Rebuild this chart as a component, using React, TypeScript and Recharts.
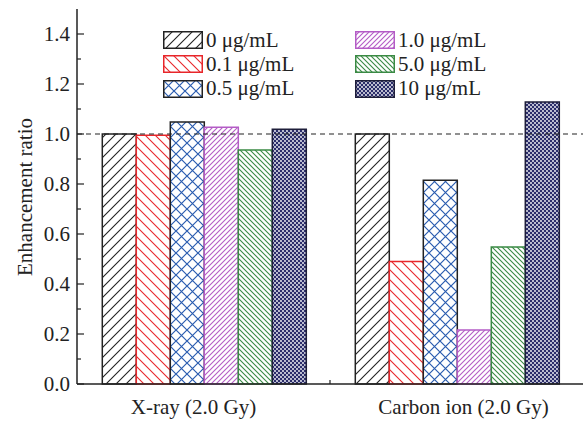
import * as React from "react";
import { Bar, BarChart, ReferenceLine, XAxis, YAxis } from "recharts";

const categories = ["X-ray (2.0 Gy)", "Carbon ion (2.0 Gy)"];
const doseLabels = ["0 μg/mL", "0.1 μg/mL", "0.5 μg/mL", "1.0 μg/mL", "5.0 μg/mL", "10 μg/mL"];
const dose0 = [1.0, 1.0];
const dose01 = [0.995, 0.49];
const dose05 = [1.048, 0.815];
const dose1 = [1.027, 0.216];
const dose5 = [0.936, 0.548];
const dose10 = [1.019, 1.128];
const yTicks = [0, 0.1, 0.2, 0.3, 0.4, 0.5, 0.6, 0.7, 0.8, 0.9, 1.0, 1.1, 1.2, 1.3, 1.4];

const series = [dose0, dose01, dose05, dose1, dose5, dose10];
const keys = ["d0", "d01", "d05", "d1", "d5", "d10"];
const strokes = ["#222222", "#e8262a", "#222222", "#b45cc6", "#3a8a44", "#1e1e3a"];

const data = categories.map((name, i) => {
  const row: Record<string, string | number> = { name };
  keys.forEach((k, j) => (row[k] = series[j][i]));
  return row;
});

const W = 584;
const H = 421;
const LEFT = 77;
const RIGHT_M = 1;
const BOTTOM = 384;
const FONT = "'Liberation Serif', 'Times New Roman', serif";

function Patterns() {
  return (
    <svg width={0} height={0} style={{ position: "absolute" }}>
      <defs>
        <pattern id="p0" patternUnits="userSpaceOnUse" width={10} height={10}>
          <rect width={10} height={10} fill="#fff" />
          <path d="M0,10 L10,0 M-2,2 L2,-2 M8,12 L12,8" stroke="#222" strokeWidth={1.1} />
        </pattern>
        <pattern id="p1" patternUnits="userSpaceOnUse" width={10} height={10}>
          <rect width={10} height={10} fill="#fff" />
          <path d="M0,0 L10,10 M-2,8 L2,12 M8,-2 L12,2" stroke="#e8262a" strokeWidth={1.1} />
        </pattern>
        <pattern id="p2" patternUnits="userSpaceOnUse" width={11} height={11}>
          <rect width={11} height={11} fill="#fff" />
          <path d="M0,0 L11,11 M0,11 L11,0" stroke="#2a5cb0" strokeWidth={1.2} />
        </pattern>
        <pattern id="p3" patternUnits="userSpaceOnUse" width={5} height={5}>
          <rect width={5} height={5} fill="#fff" />
          <path d="M0,5 L5,0 M-1,1 L1,-1 M4,6 L6,4" stroke="#b45cc6" strokeWidth={1.1} />
        </pattern>
        <pattern id="p4" patternUnits="userSpaceOnUse" width={5} height={5}>
          <rect width={5} height={5} fill="#fff" />
          <path d="M0,0 L5,5 M-1,4 L1,6 M4,-1 L6,1" stroke="#3a8a44" strokeWidth={1.1} />
        </pattern>
        <pattern id="p5" patternUnits="userSpaceOnUse" width={4} height={4}>
          <rect width={4} height={4} fill="#2b2d6a" />
          <circle cx={1} cy={1} r={0.9} fill="#fff" />
          <circle cx={3} cy={3} r={0.9} fill="#fff" />
        </pattern>
      </defs>
    </svg>
  );
}

function YTick(props: any) {
  const { y, payload } = props;
  const v = payload.value as number;
  const major = Math.round(v * 10) % 2 === 0;
  return (
    <g>
      <line x1={LEFT} x2={LEFT + (major ? 7 : 4)} y1={y} y2={y} stroke="#222" strokeWidth={1.2} />
      {major && (
        <text x={LEFT - 7} y={y} dy="0.35em" textAnchor="end" fontSize={21} fontFamily={FONT} fill="#222">
          {v.toFixed(1)}
        </text>
      )}
    </g>
  );
}

function XTick(props: any) {
  const { x, payload, index } = props;
  // labels sit a little off the group centre in the original
  const dx = index === 0 ? -10 : 7;
  const boundary = LEFT + (W - RIGHT_M - LEFT) / categories.length;
  return (
    <g>
      {index === 0 && <line x1={boundary} x2={boundary} y1={BOTTOM} y2={BOTTOM - 4} stroke="#222" strokeWidth={1.2} />}
      <text x={x + dx} y={414} textAnchor="middle" fontSize={21} fontFamily={FONT} fill="#222">
        {payload.value}
      </text>
    </g>
  );
}

function YLabel() {
  return (
    <text x={32} y={197} transform="rotate(-90 32 197)" textAnchor="middle" fontSize={21} fontFamily={FONT} fill="#222">
      Enhancement ratio
    </text>
  );
}

function LegendBox() {
  const cols = [0, 1];
  return (
    <div style={{ position: "absolute", left: 163, top: 28, display: "flex", fontFamily: FONT, fontSize: 21, color: "#222" }}>
      {cols.map((c) => (
        <div key={c} style={{ width: c === 0 ? 192 : 200 }}>
          {[0, 1, 2].map((r) => {
            const i = c * 3 + r;
            return (
              <div key={r} style={{ display: "flex", alignItems: "center", height: 24.3 }}>
                <svg width={40} height={18} style={{ marginRight: 3 }}>
                  <rect x={0.75} y={0.75} width={38.5} height={16.5} fill={`url(#p${i})`} stroke={strokes[i]} strokeWidth={1.5} />
                </svg>
                <span style={{ lineHeight: "21px" }}>{doseLabels[i]}</span>
              </div>
            );
          })}
        </div>
      ))}
    </div>
  );
}

export default function App() {
  return (
    <div style={{ position: "absolute", left: 0, top: 0, width: W, height: H, background: "#fff" }}>
      <Patterns />
      <BarChart
        width={W}
        height={H}
        data={data}
        margin={{ top: 9, right: RIGHT_M, bottom: 0, left: 0 }}
        barCategoryGap="10%"
        barGap={0}
      >
        <XAxis dataKey="name" height={H - BOTTOM} tickLine={false} tick={<XTick />} axisLine={{ stroke: "#222", strokeWidth: 1.5 }} />
        <XAxis xAxisId="top" orientation="top" dataKey="name" height={0} tick={false} tickLine={false} axisLine={{ stroke: "#222", strokeWidth: 1.5 }} />
        <YAxis
          type="number"
          domain={[0, 1.5]}
          ticks={yTicks}
          width={LEFT}
          tickLine={false}
          tick={<YTick />}
          interval={0}
          axisLine={{ stroke: "#222", strokeWidth: 1.5 }}
          label={<YLabel />}
        />
        <YAxis yAxisId="right" orientation="right" type="number" domain={[0, 1.5]} width={0} tick={false} tickLine={false} axisLine={{ stroke: "#222", strokeWidth: 1.5 }} />
        <ReferenceLine y={1} stroke="#222" strokeDasharray="5 4" strokeWidth={1.2} />
        {keys.map((k, i) => (
          <Bar key={k} dataKey={k} fill={`url(#p${i})`} stroke={strokes[i]} strokeWidth={1.5} isAnimationActive={false} />
        ))}
      </BarChart>
      <LegendBox />
    </div>
  );
}
